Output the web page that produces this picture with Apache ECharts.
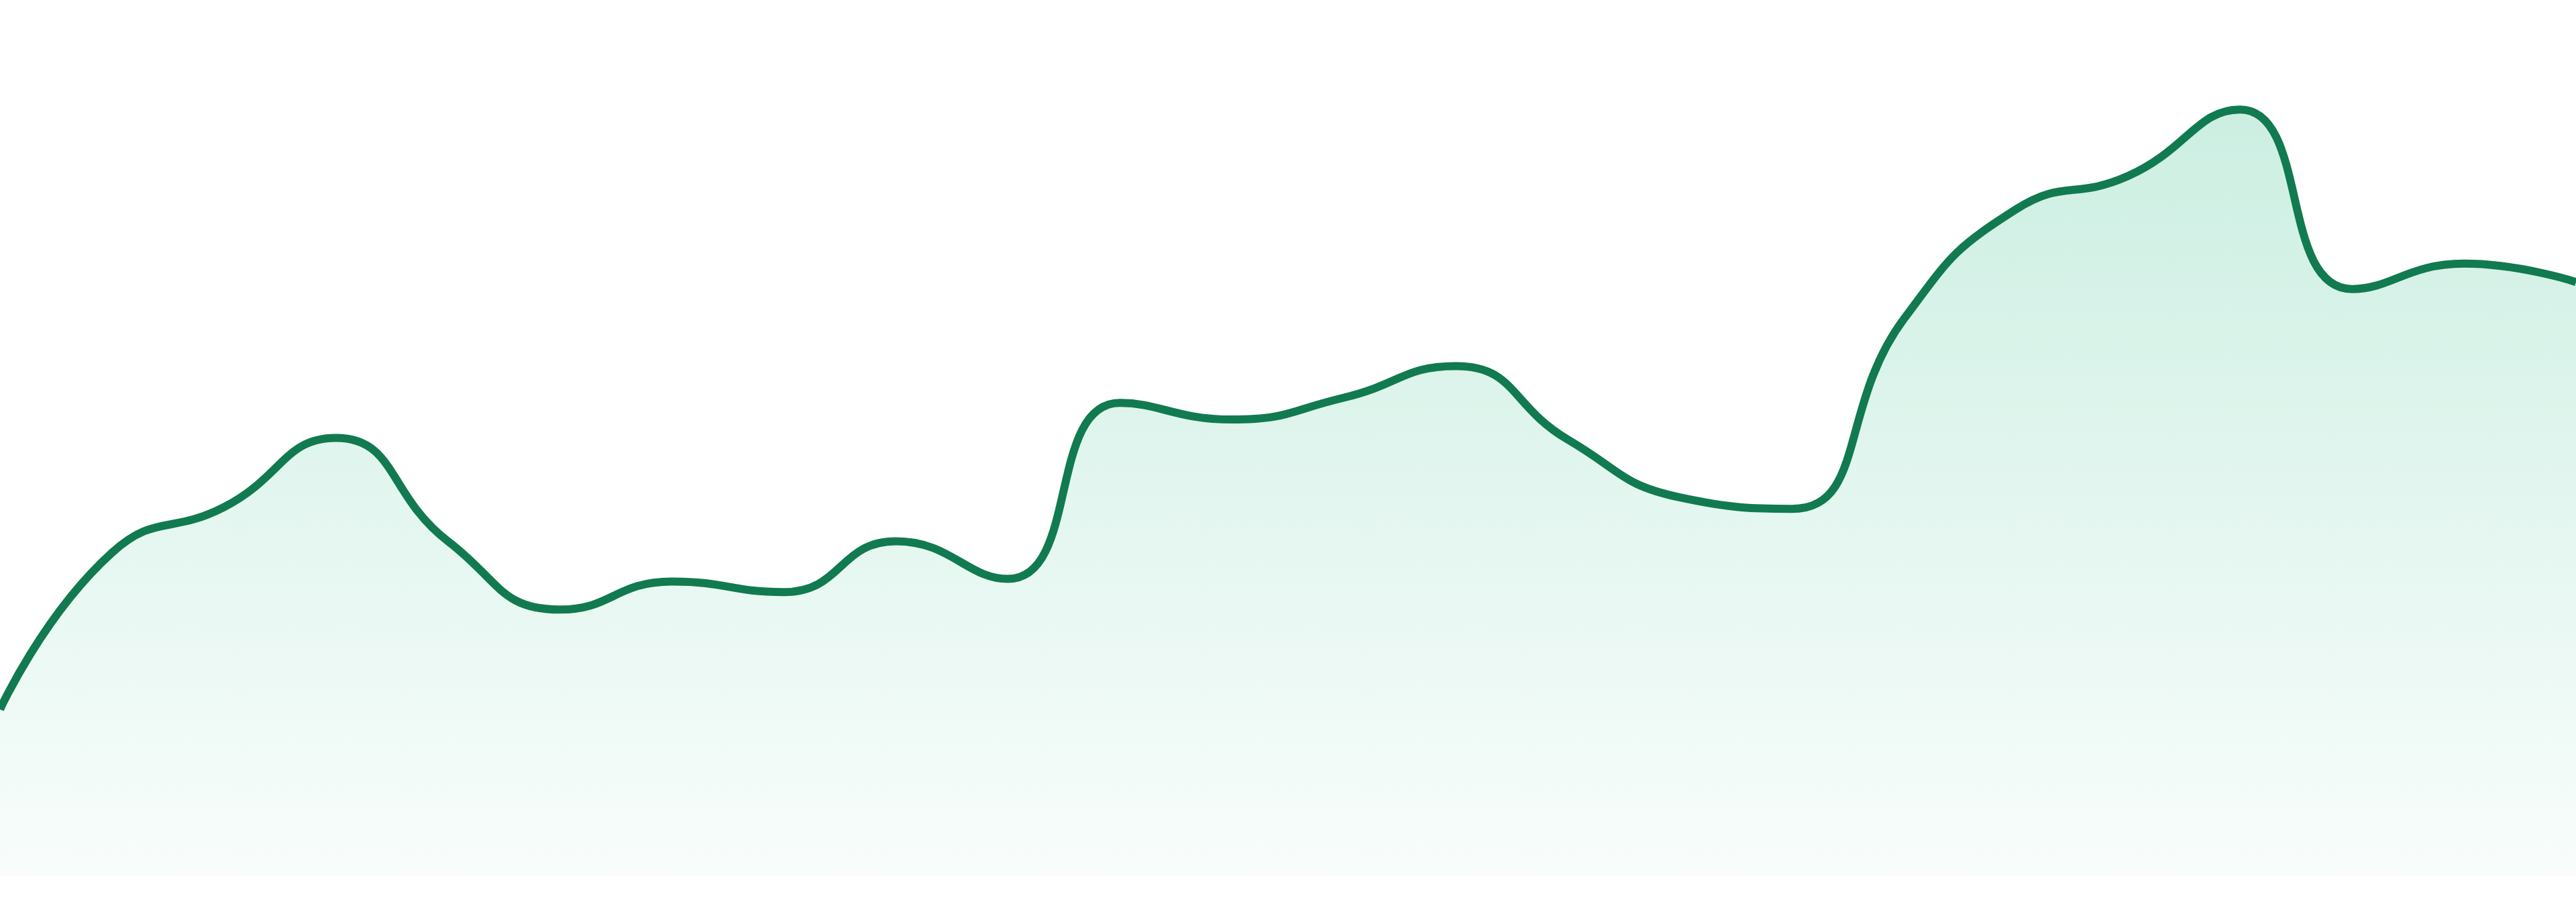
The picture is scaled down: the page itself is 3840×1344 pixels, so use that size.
<!DOCTYPE html>
<html>
<head>
<meta charset="utf-8">
<style>
  html, body { margin: 0; padding: 0; background: #ffffff; }
  #chart { width: 3840px; height: 1344px; }
</style>
<script src="https://cdn.jsdelivr.net/npm/echarts@6/dist/echarts.min.js"></script>
</head>
<body>
<div id="chart"></div>
<script>
const categories = ['P1','P2','P3','P4','P5','P6','P7','P8','P9','P10','P11','P12',
                    'P13','P14','P15','P16','P17','P18','P19','P20','P21','P22','P23','P24'];
const values = [19.0, 36.9, 42.1, 50.0, 38.2, 30.4, 33.6, 32.4, 38.2, 33.9, 54.0, 52.1,
                54.6, 58.2, 49.8, 43.2, 41.9, 63.6, 76.1, 79.9, 87.5, 67.0, 69.9, 67.8];
const yMin = 0;
const yMax = 100;

const chart = echarts.init(document.getElementById('chart'), null, { renderer: 'canvas' });
chart.setOption({
  animation: false,
  backgroundColor: '#ffffff',
  grid: { left: 0, right: 0, top: 0, bottom: 39, containLabel: false },
  xAxis: {
    type: 'category',
    data: categories,
    boundaryGap: false,
    show: false
  },
  yAxis: {
    type: 'value',
    min: yMin,
    max: yMax,
    show: false
  },
  series: [{
    type: 'line',
    data: values,
    smooth: true,
    showSymbol: false,
    symbol: 'none',
    lineStyle: { color: '#117a50', width: 12 },
    areaStyle: {
      color: new echarts.graphic.LinearGradient(0, 0, 0, 1, [
        { offset: 0, color: 'rgba(20,180,120,0.31)' },
        { offset: 1, color: 'rgba(20,180,120,0.04)' }
      ])
    }
  }]
});
</script>
</body>
</html>
